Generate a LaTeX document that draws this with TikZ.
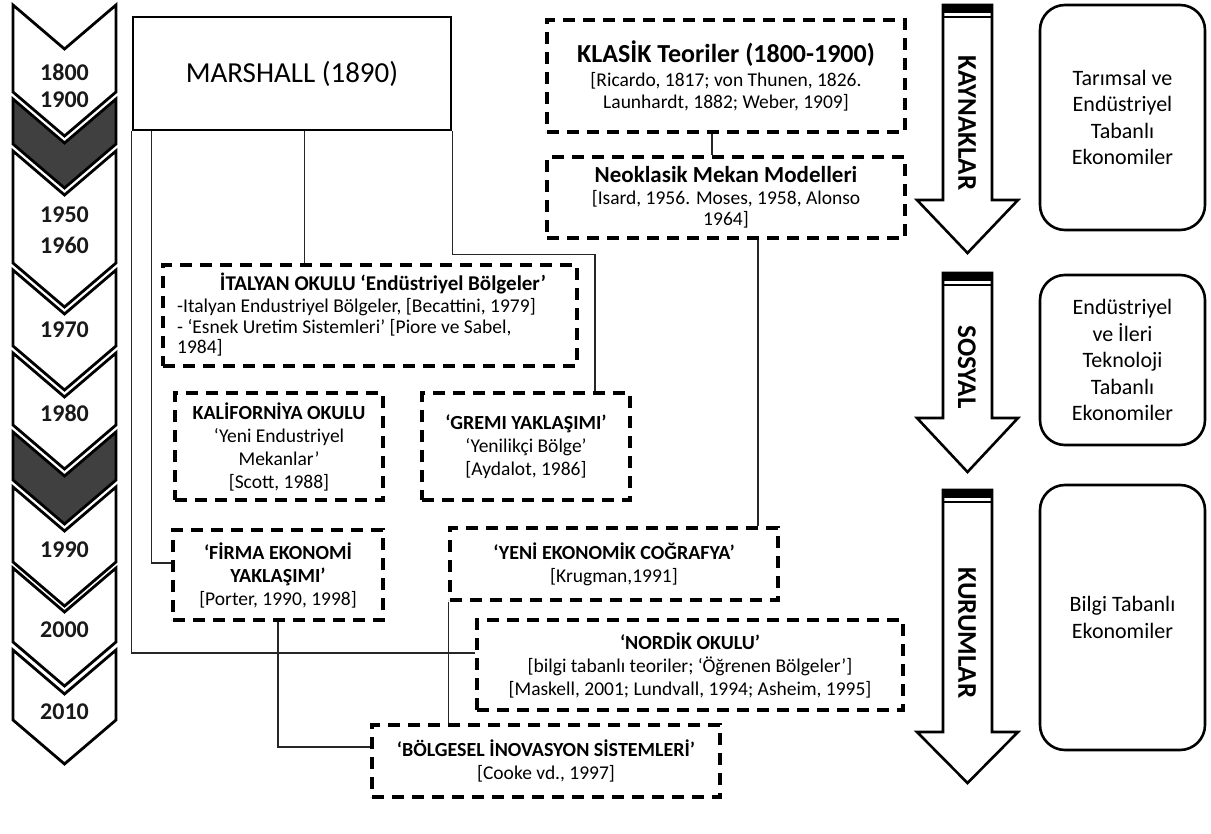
\documentclass[tikz,border=0pt]{standalone}
\usepackage{fontspec}
\setmainfont{Carlito}
\newcommand{\bdfont}{\fontsize{19.5}{23}\selectfont}
\newcommand{\hdfont}{\fontsize{20}{23}\selectfont\bfseries}
\begin{document}
\begin{tikzpicture}[x=1pt,y=-1pt,
  chev/.style={draw=black, line width=2.8pt, line join=miter},
  conn/.style={draw=black!85, line width=1.3pt},
  dbox/.style={draw=black, line width=3.2pt, dash pattern=on 12pt off 8pt,
               inner sep=0pt, align=center, font=\bdfont},
  yearlbl/.style={font=\fontsize{24}{26}\selectfont\bfseries, text=black!90, inner sep=0pt},
  bigarrow/.style={draw=black, line width=2.6pt, fill=white, line join=miter},
  arrowlbl/.style={font=\fontsize{27}{29}\selectfont\bfseries, rotate=-90, inner sep=0pt},
  ecobox/.style={draw=black, line width=2.6pt, rounded corners=25pt, minimum width=165pt,
                 align=center, font=\fontsize{22}{26.5}\selectfont, inner sep=0pt}
]
\fill[white] (0,0) rectangle (1211,834);
\useasboundingbox (0,0) rectangle (1211,834);

% time line of chevrons
\definecolor{dkgray}{HTML}{404040}
\foreach \t/\b/\f in {5/92/white, 99/144/dkgray, 151/263/white, 270/346/white,
                      353/425/white, 432/480/dkgray, 487/562/white, 568/642/white,
                      650/720/white} {
  \draw[chev, fill=\f] (13,\t) -- (64.5,\t+44) -- (116,\t) -- (116,\b)
        -- (64.5,\b+44) -- (13,\b) -- cycle;
}
\node[yearlbl] (y1800) at (64.5,72)  {1800};
\node[yearlbl] (y1900) at (64.5,100) {1900};
\node[yearlbl] (y1950) at (64.5,215) {1950};
\node[yearlbl] (y1960) at (64.5,245) {1960};
\node[yearlbl] (y1970) at (64.5,330) {1970};
\node[yearlbl] (y1980) at (64.5,413) {1980};
\node[yearlbl] (y1990) at (64.5,550) {1990};
\node[yearlbl] (y2000) at (64.5,630) {2000};
\node[yearlbl] (y2010) at (64.5,712) {2010};

% theory boxes
\node[draw=black, line width=2.8pt, minimum width=318pt, minimum height=113pt,
      inner sep=0pt, font=\fontsize{29}{32}\selectfont] (marshall) at (292,73.5) {MARSHALL (1890)};

\node[dbox, minimum width=358pt, minimum height=112pt, font=\fontsize{19.5}{22}\selectfont] (klasik) at (726,76)
  {{\fontsize{26}{28}\selectfont\bfseries KLASİK Teoriler (1800-1900)}\\[2pt]
   {[Ricardo, 1817; von Thunen, 1826.}\\Launhardt, 1882; Weber, 1909]};
\node[dbox, minimum width=358pt, minimum height=81pt, font=\fontsize{19.5}{21.5}\selectfont] (neoklasik) at (726,197.5)
  {{\fontsize{23}{25}\selectfont\bfseries Neoklasik Mekan Modelleri}\\
   {[Isard, 1956. Moses, 1958, Alonso}\\1964]};

\node[dbox, minimum width=414pt, minimum height=101pt] (italyan) at (370,315.5) {};
\node[inner sep=0pt, font=\fontsize{21}{23}\selectfont\bfseries] (italyanhd) at (383,283)
  {İTALYAN OKULU ‘Endüstriyel Bölgeler’};
\node[inner sep=0pt, anchor=west, align=left, font=\fontsize{19.5}{20.5}\selectfont] (italyanbd) at (177,327.5)
  {-Italyan Endustriyel Bölgeler, [Becattini, 1979]\\- ‘Esnek Uretim Sistemleri’ [Piore ve Sabel,\\1984]};

\node[dbox, minimum width=208pt, minimum height=107pt] (kalif) at (279,446.5)
  {{\hdfont KALİFORNİYA OKULU}\\‘Yeni Endustriyel\\Mekanlar’\\{[Scott, 1988]}};
\node[dbox, minimum width=208pt, minimum height=107pt] (gremi) at (526,446.5)
  {{\hdfont ‘GREMI YAKLAŞIMI’}\\‘Yenilikçi Bölge’\\{[Aydalot, 1986]}};
\node[dbox, minimum width=210pt, minimum height=90pt] (firma) at (278,575)
  {{\hdfont ‘FİRMA EKONOMİ}\\{\hdfont YAKLAŞIMI’}\\{[Porter, 1990, 1998]}};
\node[dbox, minimum width=328pt, minimum height=72pt] (yeni) at (614,564)
  {{\hdfont ‘YENİ EKONOMİK COĞRAFYA’}\\{[Krugman,1991]}};
\node[dbox, minimum width=426pt, minimum height=90pt] (nordik) at (690,665)
  {{\hdfont ‘NORDİK OKULU’}\\{[bilgi tabanlı teoriler; ‘Öğrenen Bölgeler’]}\\{[Maskell, 2001; Lundvall, 1994; Asheim, 1995]}};
\node[dbox, minimum width=348pt, minimum height=72pt] (bolg) at (546,761)
  {{\hdfont ‘BÖLGESEL İNOVASYON SİSTEMLERİ’}\\{[Cooke vd., 1997]}};

% connectors
\draw[conn] (marshall.south west) |- ([yshift=12pt]nordik.west);
\draw[conn] ([xshift=20pt]marshall.south west) |- ([yshift=12pt]firma.west);
\draw[conn] ([xshift=173pt]marshall.south west) coordinate (m3) -- (m3 |- italyan.north);
\draw[conn] (marshall.south east) -- ++(0,123) -| ([xshift=69pt]gremi.north);
\draw[conn] ([xshift=-14pt]klasik.south) -- ([xshift=-14pt]neoklasik.north);
\draw[conn] ([xshift=32pt]neoklasik.south) -- ([xshift=144pt]yeni.north);
\draw[conn] (yeni.south west) -- (yeni.south west |- bolg.north);
\draw[conn] (firma.south) |- ([yshift=14pt]bolg.west);

% block arrows
\foreach \top/\base/\tip/\nm/\txt/\ly in {5/200/253/akay/KAYNAKLAR/123,
                                          273/418/472/asos/SOSYAL/367,
                                          490/732/783/akur/KURUMLAR/633} {
  \draw[bigarrow] (943,\top) -- (992,\top) -- (992,\base) -- (1018,\base)
        -- (967.5,\tip) -- (917,\base) -- (943,\base) -- cycle;
  \fill[black] (943,\top) rectangle (992,\top+8);
  \draw[line width=2.6pt] (943,\top+12) -- (992,\top+12);
  \node[arrowlbl] (\nm) at (967,\ly) {\txt};
}

% economy boxes
\node[ecobox, minimum height=225pt] (eco1) at (1122.5,117.5)
  {Tarımsal ve\\Endüstriyel\\Tabanlı\\Ekonomiler};
\node[ecobox, minimum height=170pt] (eco2) at (1122.5,360)
  {Endüstriyel\\ve İleri\\Teknoloji\\Tabanlı\\Ekonomiler};
\node[ecobox, minimum height=265pt] (eco3) at (1122.5,617.5)
  {Bilgi Tabanlı\\Ekonomiler};
\end{tikzpicture}
\end{document}
